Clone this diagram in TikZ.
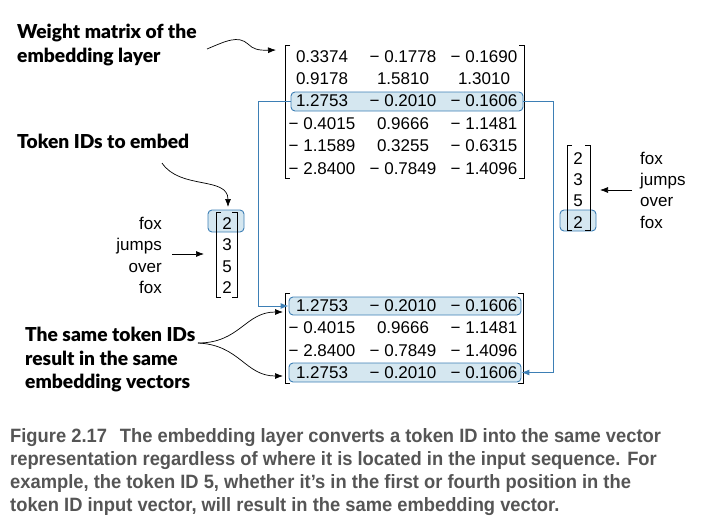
\documentclass[tikz,border=0pt]{standalone}
\usepackage{fontspec}
\setmainfont{Liberation Sans}
\newfontfamily\labfont[BoldFont={Lato Black}]{Lato}
\newfontfamily\capfont[FakeStretch=0.95]{Liberation Sans}
\usetikzlibrary{arrows.meta}
\definecolor{hlfill}{HTML}{D5E7F0}
\definecolor{hldraw}{HTML}{3D7FB5}
\definecolor{capgray}{HTML}{555555}
\begin{document}
\begin{tikzpicture}[x=1pt,y=-1pt,
 num/.style={font=\fontsize{17}{20}\selectfont, inner sep=0pt, anchor=base},
 wordR/.style={font=\fontsize{17}{20}\selectfont, inner sep=0pt, anchor=base east},
 wordL/.style={font=\fontsize{17}{20}\selectfont, inner sep=0pt, anchor=base west},
 hl/.style={draw=hldraw, fill=hlfill, rounded corners=4pt, line width=0.9pt, inner sep=0pt},
 brk/.style={line width=0.8pt},
 blink/.style={draw=hldraw, line width=1pt, -{Latex[length=8pt,width=6pt]}},
 arr/.style={line width=0.7pt, -{Latex[length=8pt,width=6pt]}},
 lab/.style={font=\labfont\bfseries\fontsize{19.2}{23.5}\selectfont, align=left, inner sep=0pt, anchor=north west},
]
\useasboundingbox (0,0) rectangle (702,530);

% highlight boxes
\node[hl, minimum width=232pt, minimum height=19pt] (hT) at (407,101.5) {};
\node[hl, minimum width=232pt, minimum height=18pt] (hB1) at (405,306) {};
\node[hl, minimum width=232pt, minimum height=19pt] (hB4) at (405,372.5) {};
\node[hl, minimum width=36pt, minimum height=22pt] (hL) at (226,221) {};
\node[hl, minimum width=36pt, minimum height=21pt] (hR) at (578,220.5) {};

% brackets
\draw[brk] (290,45) -- (285,45) -- (285,178) -- (290,178);
\draw[brk] (519,45) -- (524,45) -- (524,178) -- (519,178);
\draw[brk] (290,293) -- (285,293) -- (285,383) -- (290,383);
\draw[brk] (518,293) -- (523,293) -- (523,383) -- (518,383);
\draw[brk] (221,212) -- (216,212) -- (216,297) -- (221,297);
\draw[brk] (232,212) -- (237,212) -- (237,297) -- (232,297);
\draw[brk] (572,145) -- (567,145) -- (567,230) -- (572,230);
\draw[brk] (585,145) -- (590,145) -- (590,230) -- (585,230);

% top matrix
\foreach \r/\y/\a/\b/\c in {1/62/0.3374/− 0.1778/− 0.1690,
  2/84.4/0.9178/1.5810/1.3010,
  3/106.8/1.2753/− 0.2010/− 0.1606,
  4/129.2/− 0.4015/0.9666/− 1.1481,
  5/151.6/− 1.1589/0.3255/− 0.6315,
  6/174/− 2.8400/− 0.7849/− 1.4096}{
  \node[num] (ta\r) at (322,\y) {\a};
  \node[num] (tb\r) at (403,\y) {\b};
  \node[num] (tc\r) at (484,\y) {\c};
}
% bottom matrix
\foreach \r/\y/\a/\b/\c in {1/311/1.2753/− 0.2010/− 0.1606,
  2/333.6/− 0.4015/0.9666/− 1.1481,
  3/356.2/− 2.8400/− 0.7849/− 1.4096,
  4/378.8/1.2753/− 0.2010/− 0.1606}{
  \node[num] (ba\r) at (322,\y) {\a};
  \node[num] (bb\r) at (403,\y) {\b};
  \node[num] (bc\r) at (484,\y) {\c};
}
% left token vector and words
\foreach \r/\y/\d/\w in {1/229/2/fox, 2/250.5/3/jumps, 3/272/5/over, 4/293.5/2/fox}{
  \node[num] (lv\r) at (227,\y) {\d};
  \node[wordR] (lw\r) at (162,\y) {\w};
}
% right token vector and words
\foreach \r/\y/\d/\w in {1/164/2/fox, 2/185.3/3/jumps, 3/206.7/5/over, 4/228/2/fox}{
  \node[num] (rv\r) at (578,\y) {\d};
  \node[wordL] (rw\r) at (640,\y) {\w};
}

% labels
\node[lab] (wl) at (17,24) {Weight matrix of the\\embedding layer};
\node[lab] (tl) at (17,134) {Token IDs to embed};
\node[lab] (sl) at (25,327) {The same token IDs\\result in the same\\embedding vectors};

% caption
\node[font=\capfont\bfseries\fontsize{19.3}{23}\selectfont, text=capgray, align=left, anchor=north west, inner sep=0pt] (cap) at (10,428)
 {Figure 2.17\hspace{13pt}The embedding layer converts a token ID into the same vector\\
  representation regardless of where it is located in the input sequence. For\\
  example, the token ID 5, whether it’s in the first or fourth position in the\\
  token ID input vector, will result in the same embedding vector.};

% blue connectors
\coordinate (lc) at (258,0);
\coordinate (rc) at (553,0);
\draw[blink] (hT.west) -- (hT.west -| lc) |- (hB1.west);
\draw[blink] (hT.east) -- (hT.east -| rc) |- (hB4.east);

% black arrows
\coordinate (wa) at (207,49);
\coordinate (wb) at (276,50);
\draw[arr] (wa) .. controls (226,41) and (238,35) .. (248,44) .. controls (253,49) and (258,50.5) .. (wb);
\coordinate (ta) at (162,163);
\coordinate (tb) at (228,207);
\draw[arr] (ta) .. controls (180,190) and (228,176) .. (tb);
\coordinate (sa) at (198,343);
\coordinate (sb) at (283,312);
\coordinate (sc) at (283,376);
\draw[arr] (sa) .. controls (240,343) and (245,312) .. (sb);
\draw[arr] (sa) .. controls (240,345) and (245,376) .. (sc);
\coordinate (la) at (172,254);
\coordinate (lb) at (204,254);
\draw[arr] (la) -- (lb);
\coordinate (ra) at (632,190);
\coordinate (rb) at (600,190);
\draw[arr] (ra) -- (rb);
\end{tikzpicture}
\end{document}
